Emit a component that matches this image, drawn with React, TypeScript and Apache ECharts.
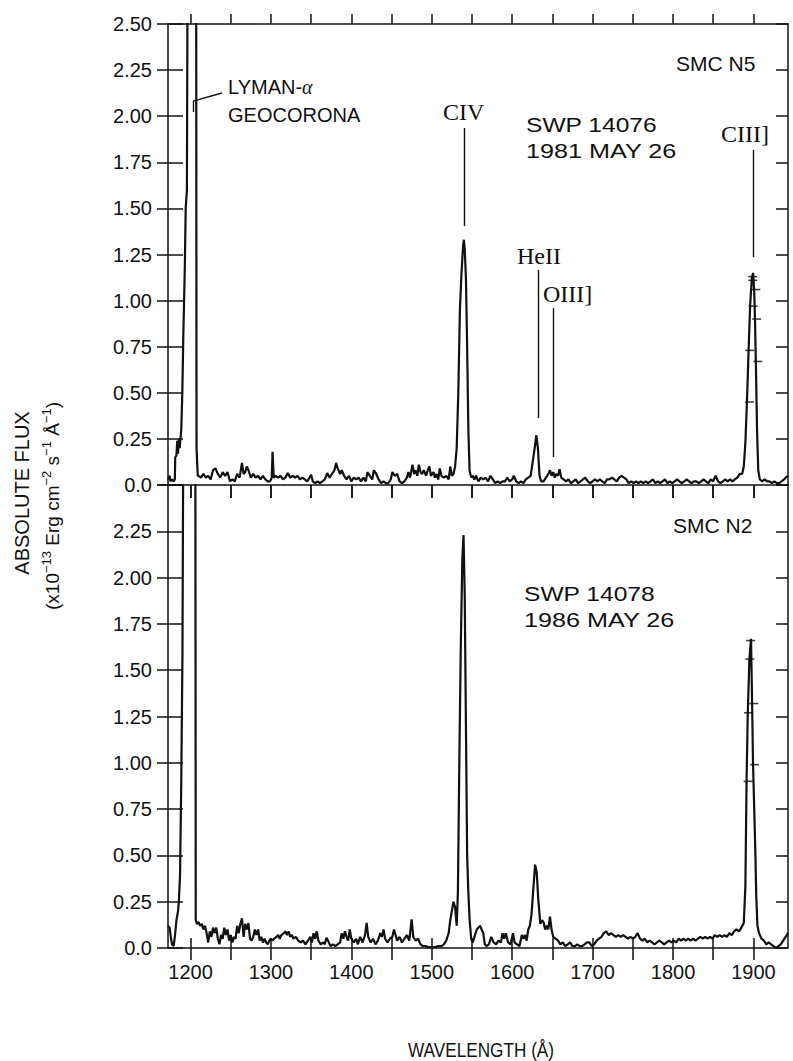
import React, { useEffect, useRef } from "react";
import * as echarts from "echarts";

// ---------------- data ----------------
const X_MIN = 1172;
const X_MAX = 1943;
const xTickValues = [1200, 1250, 1300, 1350, 1400, 1450, 1500, 1550, 1600, 1650, 1700, 1750, 1800, 1850, 1900];
const xLabelValues = [1200, 1300, 1400, 1500, 1600, 1700, 1800, 1900];

// SMC N5 (SWP 14076)
const topWave = [
  1172, 1174, 1175, 1177, 1179, 1180.5, 1181, 1182.5, 1183.5, 1184.5, 1185.5, 1186.5, 1187.5, 1188.5, 1189.8, 1191, 1193, 1194, 1195.5, 1196.5, 1207, 1207.5, 1209,
  1210, 1213, 1216, 1219, 1222, 1225, 1228, 1231, 1234, 1237, 1240, 1243, 1246, 1249, 1252, 1255, 1258, 1261, 1264, 1266, 1268, 1270, 1272, 1275, 1278, 1281, 1284, 1287, 1290, 1293, 1296, 1299,
  1301, 1302, 1303.5, 1306, 1309, 1312, 1315, 1318, 1321, 1324, 1327, 1330, 1333, 1336, 1339, 1342, 1345, 1348, 1350, 1352, 1355, 1358, 1361, 1364, 1367, 1370, 1373, 1376, 1379, 1381, 1383, 1386, 1388, 1391, 1394, 1397,
  1400, 1403, 1406, 1409, 1412, 1415, 1418, 1420, 1423, 1426, 1428, 1431, 1434, 1437, 1440, 1443, 1446, 1449, 1451, 1454, 1457, 1460, 1463, 1466, 1469, 1471, 1473, 1476, 1478, 1480, 1482, 1484, 1486, 1488, 1490, 1493, 1495, 1497, 1499,
  1502, 1504, 1506, 1508, 1510, 1512, 1515, 1518, 1521, 1523, 1525, 1527, 1529, 1531, 1533, 1535, 1537, 1539, 1540, 1541, 1542.5, 1544, 1545.5, 1547, 1549,
  1551, 1553, 1555, 1558, 1561, 1564, 1567, 1570, 1573, 1576, 1579, 1582, 1585, 1588, 1591, 1594, 1597, 1600, 1602, 1605, 1608, 1611, 1614, 1617, 1620, 1623, 1626, 1628, 1630, 1632, 1634, 1636, 1639, 1642, 1645, 1647, 1649,
  1651, 1653, 1655, 1657, 1659, 1661, 1664, 1667, 1670, 1673, 1676, 1679, 1682, 1685, 1688, 1691, 1694, 1697, 1700, 1703, 1706, 1709, 1712, 1715, 1718, 1721, 1724, 1727, 1730, 1733, 1736, 1739, 1742, 1745, 1748,
  1751, 1754, 1757, 1760, 1763, 1766, 1769, 1772, 1775, 1778, 1781, 1784, 1787, 1790, 1793, 1796, 1799, 1802, 1805, 1808, 1811, 1814, 1817, 1820, 1823, 1826, 1829, 1832, 1835, 1838, 1841, 1844, 1847,
  1850, 1853, 1856, 1859, 1862, 1865, 1868, 1871, 1874, 1877, 1880, 1883, 1886, 1888, 1890, 1892, 1894, 1896, 1898, 1899.5, 1901, 1902, 1903, 1904.5, 1906, 1908, 1911, 1914, 1917, 1920, 1923, 1926, 1929, 1932, 1935, 1938, 1940, 1943,
];
const topFlux = [
  0.03, 0.05, 0.02, 0.03, 0.02, 0.03, 0.15, 0.16, 0.24, 0.17, 0.25, 0.2, 0.25, 0.3, 0.5, 0.8, 1.2, 1.5, 1.6, 3.0, 3.0, 0.2, 0.05,
  0.05, 0.04, 0.06, 0.04, 0.05, 0.03, 0.08, 0.09, 0.06, 0.04, 0.07, 0.05, 0.07, 0.02, 0.03, 0.02, 0.06, 0.04, 0.12, 0.06, 0.07, 0.1, 0.08, 0.04, 0.06, 0.04, 0.05, 0.03, 0.05, 0.03, 0.02, 0.02,
  0.04, 0.18, 0.04, 0.05, 0.04, 0.05, 0.03, 0.04, 0.065, 0.04, 0.05, 0.04, 0.05, 0.03, 0.04, 0.03, 0.02, 0.04, 0.055, 0.02, 0.01, 0.02, 0.01, 0.02, 0.03, 0.065, 0.04, 0.06, 0.08, 0.12, 0.09, 0.06, 0.08, 0.05, 0.03, 0.05,
  0.02, 0.04, 0.03, 0.04, 0.02, 0.04, 0.02, 0.07, 0.05, 0.03, 0.08, 0.06, 0.03, 0.01, 0.02, 0.01, 0.01, 0.03, 0.07, 0.05, 0.06, 0.02, 0.01, 0.02, 0.04, 0.07, 0.04, 0.11, 0.06, 0.08, 0.05, 0.11, 0.07, 0.06, 0.08, 0.05, 0.08, 0.1, 0.05,
  0.07, 0.04, 0.06, 0.03, 0.09, 0.05, 0.04, 0.05, 0.03, 0.1, 0.05, 0.06, 0.1, 0.2, 0.5, 0.95, 1.15, 1.3, 1.33, 1.28, 1.12, 0.75, 0.3, 0.08, 0.04,
  0.05, 0.03, 0.05, 0.02, 0.04, 0.03, 0.04, 0.02, 0.05, 0.03, 0.01, 0.02, 0.01, 0.02, 0.02, 0.04, 0.02, 0.03, 0.05, 0.02, 0.01, 0.02, 0.01, 0.03, 0.04, 0.05, 0.14, 0.2, 0.27, 0.2, 0.05, 0.02, 0.02, 0.04, 0.06, 0.08, 0.05,
  0.07, 0.04, 0.06, 0.05, 0.085, 0.04, 0.03, 0.02, 0.03, 0.01, 0.02, 0.03, 0.01, 0.02, 0.03, 0.04, 0.02, 0.01, 0.02, 0.03, 0.02, 0.03, 0.02, 0.01, 0.03, 0.03, 0.04, 0.03, 0.02, 0.04, 0.05, 0.04, 0.03, 0.01, 0.02,
  0.01, 0.02, 0.01, 0.02, 0.01, 0.02, 0.01, 0.02, 0.03, 0.01, 0.02, 0.01, 0.02, 0.03, 0.01, 0.02, 0.01, 0.02, 0.03, 0.02, 0.01, 0.02, 0.03, 0.02, 0.01, 0.02, 0.02, 0.01, 0.02, 0.03, 0.02, 0.01, 0.03,
  0.02, 0.05, 0.02, 0.01, 0.02, 0.03, 0.02, 0.03, 0.02, 0.03, 0.04, 0.06, 0.06, 0.1, 0.23, 0.46, 0.73, 0.98, 1.12, 1.15, 1.05, 0.89, 0.67, 0.3, 0.08, 0.03, 0.02, 0.03, 0.02, 0.02, 0.01, 0.02, 0.01, 0.01, 0.02, 0.03, 0.04, 0.05,
];

// SMC N2 (SWP 14078)
const botWave = [
  1172, 1174, 1175.5, 1177, 1179, 1180.5, 1182.5, 1184.5, 1185.5, 1187, 1188.5, 1190, 1191, 1206, 1206.5, 1208,
  1210, 1212, 1214, 1216, 1218, 1220, 1222, 1224, 1226, 1228, 1230, 1232, 1234, 1236, 1238, 1240, 1242, 1244, 1246, 1248,
  1250, 1252, 1254, 1256, 1258, 1260, 1262, 1264, 1266, 1268, 1270, 1272, 1274, 1276, 1278, 1280, 1282, 1284, 1286, 1288,
  1290, 1292, 1294, 1296, 1298, 1300, 1302, 1304, 1307, 1309, 1311, 1313, 1316, 1318, 1320, 1322, 1324, 1326, 1328, 1331, 1334, 1337,
  1340, 1343, 1346, 1349, 1351, 1353, 1355, 1357, 1359, 1362, 1365, 1367, 1369, 1371, 1374, 1377, 1380, 1383, 1386, 1388, 1390, 1392, 1394, 1396, 1398,
  1400, 1403, 1406, 1408, 1411, 1414, 1417, 1419, 1421, 1424, 1427, 1430, 1433, 1436, 1438, 1440, 1442, 1445, 1448, 1451, 1453, 1455, 1457,
  1460, 1463, 1466, 1469, 1472, 1475, 1477, 1480, 1483, 1486, 1489, 1492, 1496, 1500, 1504, 1508, 1512, 1515, 1518, 1521, 1523, 1525, 1527, 1529,
  1531, 1532.5, 1534, 1536, 1538, 1539.5, 1541, 1542.5, 1544, 1545.5, 1547, 1549, 1551, 1553, 1556, 1558, 1560, 1562, 1564, 1566, 1568,
  1571, 1574, 1577, 1580, 1583, 1586, 1588, 1590, 1592, 1595, 1598, 1601, 1603, 1606, 1609, 1612, 1614, 1616, 1618, 1620, 1622, 1624, 1626, 1628.5,
  1630.5, 1632.5, 1635, 1637, 1639, 1641, 1643, 1645, 1647, 1649, 1651, 1654, 1657, 1660, 1663, 1666, 1669, 1672, 1675, 1678,
  1681, 1684, 1687, 1690, 1693, 1696, 1699, 1702, 1705, 1708, 1711, 1714, 1717, 1720, 1723, 1726, 1729, 1732, 1735, 1738, 1741, 1744, 1747,
  1750, 1753, 1756, 1759, 1762, 1765, 1768, 1771, 1774, 1777, 1780, 1783, 1786, 1789, 1792, 1795, 1798, 1801, 1804, 1807, 1810, 1813, 1816, 1819,
  1822, 1825, 1828, 1831, 1834, 1837, 1840, 1843, 1846, 1849, 1852, 1855, 1858, 1861, 1864, 1867, 1870, 1873, 1876, 1879, 1882, 1885, 1888,
  1890, 1891.5, 1893, 1895, 1897, 1898, 1899.5, 1901, 1902.5, 1903.5, 1905, 1907, 1910, 1913, 1916, 1919, 1922, 1925, 1928, 1931, 1934, 1937, 1940, 1943,
];
const botFlux = [
  0.12, 0.11, 0.06, 0.02, 0.01, 0.06, 0.15, 0.2, 0.25, 0.4, 0.9, 1.6, 2.8, 2.8, 0.15, 0.13,
  0.14, 0.12, 0.13, 0.1, 0.12, 0.08, 0.03, 0.09, 0.06, 0.11, 0.08, 0.11, 0.05, 0.02, 0.07, 0.05, 0.11, 0.07, 0.1, 0.04,
  0.07, 0.03, 0.06, 0.05, 0.12, 0.08, 0.13, 0.16, 0.06, 0.13, 0.1, 0.135, 0.05, 0.04, 0.06, 0.1, 0.07, 0.1, 0.04, 0.06,
  0.03, 0.05, 0.03, 0.02, 0.04, 0.05, 0.04, 0.05, 0.06, 0.07, 0.05, 0.07, 0.08, 0.09, 0.07, 0.09, 0.06, 0.07, 0.05, 0.06, 0.04, 0.03,
  0.04, 0.02, 0.04, 0.06, 0.03, 0.08, 0.05, 0.09, 0.04, 0.02, 0.03, 0.02, 0.055, 0.04, 0.01, 0.02, 0.01, 0.02, 0.03, 0.08, 0.05, 0.09, 0.06, 0.04, 0.1,
  0.05, 0.03, 0.05, 0.02, 0.06, 0.03, 0.07, 0.135, 0.06, 0.03, 0.05, 0.02, 0.04, 0.08, 0.06, 0.1, 0.05, 0.03, 0.05, 0.06, 0.1, 0.07, 0.04,
  0.06, 0.03, 0.05, 0.07, 0.04, 0.155, 0.06, 0.04, 0.05, 0.02, 0.01, 0.01, 0.005, 0.005, 0.005, 0.01, 0.01, 0.02, 0.04, 0.08, 0.15, 0.2, 0.25, 0.22,
  0.12, 0.3, 0.9, 1.6, 2.1, 2.23, 1.9, 1.2, 0.5, 0.3, 0.16, 0.05, 0.03, 0.06, 0.1, 0.11, 0.12, 0.1, 0.08, 0.02, 0.01,
  0.02, 0.06, 0.03, 0.02, 0.04, 0.03, 0.08, 0.05, 0.08, 0.03, 0.02, 0.08, 0.03, 0.02, 0.01, 0.07, 0.05, 0.07, 0.04, 0.1, 0.12, 0.18, 0.3, 0.45,
  0.41, 0.26, 0.13, 0.15, 0.14, 0.1, 0.12, 0.1, 0.17, 0.1, 0.06, 0.05, 0.04, 0.02, 0.03, 0.01, 0.02, 0.03, 0.01, 0.01,
  0.02, 0.01, 0.01, 0.02, 0.03, 0.03, 0.01, 0.02, 0.04, 0.05, 0.06, 0.08, 0.09, 0.07, 0.08, 0.07, 0.06, 0.07, 0.06, 0.07, 0.06, 0.05, 0.06,
  0.05, 0.06, 0.08, 0.05, 0.04, 0.05, 0.03, 0.04, 0.03, 0.02, 0.03, 0.04, 0.03, 0.02, 0.03, 0.04, 0.03, 0.04, 0.03, 0.05, 0.04, 0.05, 0.04, 0.05,
  0.04, 0.05, 0.04, 0.05, 0.06, 0.05, 0.06, 0.05, 0.06, 0.05, 0.07, 0.06, 0.07, 0.06, 0.07, 0.06, 0.08, 0.07, 0.09, 0.1, 0.09, 0.11, 0.135,
  0.33, 0.91, 1.27, 1.56, 1.67, 1.42, 1.0, 0.75, 0.5, 0.28, 0.12, 0.08, 0.05, 0.04, 0.02, 0.03, 0.02, 0.01, 0.0, 0.01, 0.02, 0.04, 0.06, 0.08,
];

// flagged-point dashes on the CIII] peaks
const topFlagWave = [1899.2, 1899.2, 1903, 1899.6, 1904, 1895.5, 1905.4, 1895];
const topFlagFlux = [1.13, 1.11, 1.06, 0.97, 0.9, 0.73, 0.67, 0.45];
const botFlagWave = [1896.5, 1895.5, 1900.5, 1894, 1901.5, 1893.5];
const botFlagFlux = [1.66, 1.56, 1.32, 1.27, 0.99, 0.9];

// line identification ticks (wavelength, from flux, to flux)
const idWave = [1540.2, 1632.2, 1650.9, 1899.6];
const idFrom = [1.405, 0.363, 0.152, 1.236];
const idTo = [1.936, 1.166, 0.96, 1.817];

const SANS = "'Liberation Sans', Arial, Helvetica, sans-serif";
const SERIF = "'Liberation Serif', 'Times New Roman', serif";
const INK = "#111";

export default function App() {
  const ref = useRef<HTMLDivElement>(null);

  useEffect(() => {
    if (!ref.current) return;
    const chart = echarts.init(ref.current, undefined, { renderer: "svg" });

    const topData = topWave.map((w, i) => [w, topFlux[i]]);
    const botData = botWave.map((w, i) => [w, botFlux[i]]);
    const topFlags = topFlagWave.map((w, i) => [w, topFlagFlux[i]]);
    const botFlags = botFlagWave.map((w, i) => [w, botFlagFlux[i]]);

    const lineStyle = { color: INK, width: 1.5 };
    const baseX = {
      type: "value",
      min: X_MIN,
      max: X_MAX,
      splitLine: { show: false },
      axisLabel: { show: false },
    };
    const baseY = {
      type: "value",
      min: 0,
      max: 2.5,
      interval: 0.25,
      splitLine: { show: false },
      axisLabel: { show: false },
    };
    const yFmt = (hideTop: boolean) => (v: number) => {
      if (v === 0) return "0.0";
      if (hideTop && Math.abs(v - 2.5) < 1e-6) return "";
      return v.toFixed(2);
    };

    const idMarks = idWave.map((w, i) => [
      { coord: [w, idFrom[i]] },
      { coord: [w, idTo[i]] },
    ]);
    const lymanPointer = [
      [{ coord: [1203.1, 2.023] }, { coord: [1203.1, 2.082] }],
      [{ coord: [1203.1, 2.082] }, { coord: [1239.2, 2.126] }],
    ];

    const text = (t: string, x: number, y: number, size: number, family: string, extra: any = {}) => ({
      type: "text",
      x,
      y,
      silent: true,
      ...extra,
      style: {
        text: t,
        fontSize: size,
        fontFamily: family,
        fill: INK,
        align: extra.align || "left",
        verticalAlign: "middle",
        ...(extra.rich ? { rich: extra.rich } : {}),
      },
    });

    const option: any = {
      animation: false,
      backgroundColor: "#fff",
      grid: [
        { left: 168, top: 24, width: 620, height: 461 },
        { left: 168, top: 485, width: 620, height: 463 },
        { left: 168, top: 24, width: 620, height: 461 },
        { left: 168, top: 485, width: 620, height: 463 },
      ],
      xAxis: [
        {
          ...baseX,
          gridIndex: 0,
          position: "bottom",
          axisLine: { show: true, onZero: false, lineStyle },
          axisTick: { show: true, inside: false, length: 13, customValues: xTickValues, lineStyle },
        },
        {
          ...baseX,
          gridIndex: 0,
          position: "top",
          axisLine: { show: true, onZero: false, lineStyle },
          axisTick: { show: true, inside: false, length: 10, customValues: xTickValues, lineStyle },
        },
        {
          ...baseX,
          gridIndex: 1,
          position: "bottom",
          axisLine: { show: true, onZero: false, lineStyle },
          axisTick: { show: true, inside: false, length: 12, customValues: xTickValues, lineStyle },
          axisLabel: {
            show: true,
            customValues: xLabelValues,
            fontSize: 20,
            fontFamily: SANS,
            color: INK,
            margin: 14,
            formatter: (v: number) => String(v),
          },
        },
        {
          ...baseX,
          gridIndex: 2,
          position: "top",
          axisLine: { show: false },
          axisTick: { show: true, inside: true, length: 13, customValues: xTickValues, lineStyle },
        },
        {
          ...baseX,
          gridIndex: 3,
          position: "bottom",
          axisLine: { show: false },
          axisTick: { show: true, inside: true, length: 10, customValues: xTickValues, lineStyle },
        },
      ],
      yAxis: [
        {
          ...baseY,
          gridIndex: 0,
          position: "left",
          axisLine: { show: true, onZero: false, lineStyle },
          axisTick: { show: true, inside: false, length: 11, lineStyle },
          axisLabel: { show: true, fontSize: 20, fontFamily: SANS, color: INK, margin: 16, formatter: yFmt(false) },
        },
        {
          ...baseY,
          gridIndex: 0,
          position: "right",
          axisLine: { show: true, onZero: false, lineStyle },
          axisTick: { show: true, inside: true, length: 12, lineStyle },
        },
        {
          ...baseY,
          gridIndex: 1,
          position: "left",
          axisLine: { show: true, onZero: false, lineStyle },
          axisTick: { show: true, inside: false, length: 11, lineStyle },
          axisLabel: { show: true, fontSize: 20, fontFamily: SANS, color: INK, margin: 16, formatter: yFmt(true) },
        },
        {
          ...baseY,
          gridIndex: 1,
          position: "right",
          axisLine: { show: true, onZero: false, lineStyle },
          axisTick: { show: true, inside: true, length: 12, lineStyle },
        },
        {
          ...baseY,
          gridIndex: 2,
          position: "left",
          axisLine: { show: false },
          axisTick: { show: true, inside: true, length: 15, lineStyle },
        },
        {
          ...baseY,
          gridIndex: 3,
          position: "left",
          axisLine: { show: false },
          axisTick: { show: true, inside: true, length: 15, lineStyle },
        },
      ],
      series: [
        {
          name: "SMC N5",
          type: "line",
          xAxisIndex: 0,
          yAxisIndex: 0,
          data: topData,
          showSymbol: false,
          clip: true,
          lineStyle: { color: INK, width: 2.2 },
          silent: true,
          markLine: {
            silent: true,
            symbol: ["none", "none"],
            label: { show: false },
            lineStyle: { color: INK, width: 1.4, type: "solid" },
            emphasis: { disabled: true },
            data: [...idMarks, ...lymanPointer],
          },
        },
        {
          name: "SMC N2",
          type: "line",
          xAxisIndex: 2,
          yAxisIndex: 2,
          data: botData,
          showSymbol: false,
          clip: true,
          lineStyle: { color: INK, width: 2.2 },
          silent: true,
        },
        {
          type: "scatter",
          xAxisIndex: 0,
          yAxisIndex: 0,
          data: topFlags,
          symbol: "rect",
          symbolSize: [9, 1.6],
          itemStyle: { color: INK },
          silent: true,
        },
        {
          type: "scatter",
          xAxisIndex: 2,
          yAxisIndex: 2,
          data: botFlags,
          symbol: "rect",
          symbolSize: [9, 1.6],
          itemStyle: { color: INK },
          silent: true,
        },
      ],
      graphic: [
        text("{a|LYMAN-}{i|α}", 228, 87, 20, SANS, {
          rich: {
            a: { fontSize: 20, fontFamily: SANS, fill: INK },
            i: { fontSize: 20, fontFamily: SERIF, fontStyle: "italic", fill: INK },
          },
        }),
        text("GEOCORONA", 228, 114.5, 20, SANS),
        text("SMC N5", 676, 63.5, 21, SANS),
        text("CIV", 443, 111.5, 24, SERIF),
        text("SWP 14076", 526, 125, 21, SANS, { scaleX: 1.17 }),
        text("1981 MAY 26", 526, 150.5, 21, SANS, { scaleX: 1.2 }),
        text("CIII]", 721, 134, 24, SERIF),
        text("HeII", 517, 255.5, 24, SERIF),
        text("OIII]", 543, 294, 24, SERIF),
        text("SMC N2", 673, 525, 21, SANS),
        text("SWP 14078", 524, 593.5, 21, SANS, { scaleX: 1.17 }),
        text("1986 MAY 26", 524, 619.5, 21, SANS, { scaleX: 1.2 }),
        text("WAVELENGTH (Å)", 481, 1050, 20, SANS, { align: "center", scaleX: 0.86 }),
        {
          type: "text",
          x: 22,
          y: 493,
          rotation: Math.PI / 2,
          silent: true,
          style: {
            text: "ABSOLUTE FLUX",
            fontSize: 20,
            fontFamily: SANS,
            fill: INK,
            align: "center",
            verticalAlign: "middle",
          },
        },
        {
          type: "text",
          x: 51,
          y: 506,
          rotation: Math.PI / 2,
          silent: true,
          style: {
            text: "{a|(x10}{b|−13}{a| Erg cm}{b|−2}{a| s}{b|−1}{a| Å}{b|−1}{a|)}",
            align: "center",
            verticalAlign: "middle",
            fill: INK,
            rich: {
              a: { fontSize: 19, fontFamily: SANS, fill: INK, lineHeight: 22, verticalAlign: "bottom" },
              b: { fontSize: 13, fontFamily: SANS, fill: INK, lineHeight: 22, verticalAlign: "top" },
            },
          },
        },
      ],
    };

    chart.setOption(option);
    return () => chart.dispose();
  }, []);

  return (
    <div
      ref={ref}
      style={{ position: "absolute", left: 0, top: 0, width: 793, height: 1061, background: "#fff" }}
    />
  );
}
